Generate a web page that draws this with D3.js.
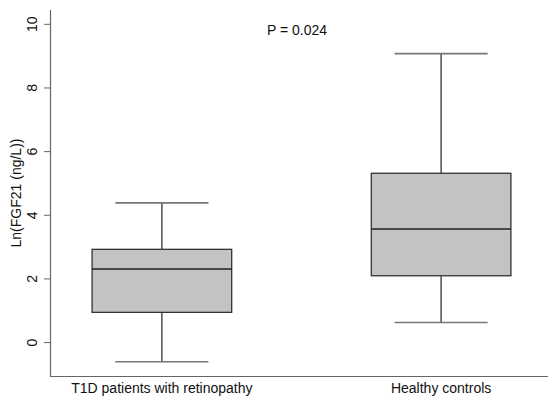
<!DOCTYPE html>
<html>
<head>
<meta charset="utf-8">
<script src="https://cdn.jsdelivr.net/npm/d3@7"></script>
<style>
  body { margin: 0; background: #fff; }
  text { font-family: "Liberation Sans", Arial, sans-serif; fill: #111; }
</style>
</head>
<body>
<svg width="550" height="398"></svg>
<script>
// groups and box summary
var groups = ["T1D patients with retinopathy", "Healthy controls"];
var whiskerLow = [-0.60, 0.63];
var q1 = [0.95, 2.10];
var median = [2.31, 3.57];
var q3 = [2.93, 5.32];
var whiskerHigh = [4.39, 9.08];
var yTicks = [0, 2, 4, 6, 8, 10];
var pLabel = "P = 0.024";

var svg = d3.select("svg");

var y = d3.scaleLinear()
    .domain([-1.05, 10.45])
    .range([376, 10]);

var x = d3.scalePoint()
    .domain(groups)
    .range([53, 550])
    .padding(0.39);

var step = x.step();
var boxW = step * 0.5,
    capW = step / 3;

var boxes = groups.map(function (g, i) {
    return { g: g, lo: whiskerLow[i], q1: q1[i], med: median[i], q3: q3[i], hi: whiskerHigh[i] };
});

// axes
svg.append("line")
    .attr("x1", 50).attr("x2", 548)
    .attr("y1", 376.5).attr("y2", 376.5)
    .attr("stroke", "#666").attr("stroke-width", 1.2);

svg.append("line")
    .attr("x1", 50.5).attr("x2", 50.5)
    .attr("y1", 10).attr("y2", 376.5)
    .attr("stroke", "#666").attr("stroke-width", 1.2);

var ticks = svg.append("g");
ticks.selectAll("line")
    .data(yTicks)
    .enter().append("line")
    .attr("x1", 44).attr("x2", 50)
    .attr("y1", function (d) { return y(d); })
    .attr("y2", function (d) { return y(d); })
    .attr("stroke", "#666").attr("stroke-width", 1);

ticks.selectAll("text")
    .data(yTicks)
    .enter().append("text")
    .attr("transform", function (d) { return "translate(37," + y(d) + ") rotate(-90)"; })
    .attr("text-anchor", "middle")
    .attr("font-size", 14)
    .text(function (d) { return d; });

svg.append("text")
    .attr("transform", "translate(21," + ((10 + 376) / 2) + ") rotate(-90)")
    .attr("text-anchor", "middle")
    .attr("font-size", 14)
    .text("Ln(FGF21 (ng/L))");

svg.append("g").selectAll("text")
    .data(groups)
    .enter().append("text")
    .attr("x", function (d) { return x(d); })
    .attr("y", 393)
    .attr("text-anchor", "middle")
    .attr("font-size", 14)
    .text(function (d) { return d; });

// boxes
var b = svg.append("g").selectAll("g")
    .data(boxes)
    .enter().append("g");

// whisker stems
b.append("line")
    .attr("x1", function (d) { return x(d.g); })
    .attr("x2", function (d) { return x(d.g); })
    .attr("y1", function (d) { return y(d.hi); })
    .attr("y2", function (d) { return y(d.q3); })
    .attr("stroke", "#333").attr("stroke-width", 1.3);

b.append("line")
    .attr("x1", function (d) { return x(d.g); })
    .attr("x2", function (d) { return x(d.g); })
    .attr("y1", function (d) { return y(d.q1); })
    .attr("y2", function (d) { return y(d.lo); })
    .attr("stroke", "#333").attr("stroke-width", 1.3);

// caps
b.append("line")
    .attr("x1", function (d) { return x(d.g) - capW / 2; })
    .attr("x2", function (d) { return x(d.g) + capW / 2; })
    .attr("y1", function (d) { return y(d.hi); })
    .attr("y2", function (d) { return y(d.hi); })
    .attr("stroke", "#777").attr("stroke-width", 1.6);

b.append("line")
    .attr("x1", function (d) { return x(d.g) - capW / 2; })
    .attr("x2", function (d) { return x(d.g) + capW / 2; })
    .attr("y1", function (d) { return y(d.lo); })
    .attr("y2", function (d) { return y(d.lo); })
    .attr("stroke", "#777").attr("stroke-width", 1.6);

b.append("rect")
    .attr("x", function (d) { return x(d.g) - boxW / 2; })
    .attr("width", boxW)
    .attr("y", function (d) { return y(d.q3); })
    .attr("height", function (d) { return y(d.q1) - y(d.q3); })
    .attr("fill", "#c3c3c3")
    .attr("stroke", "#333").attr("stroke-width", 1.3);

b.append("line")
    .attr("x1", function (d) { return x(d.g) - boxW / 2; })
    .attr("x2", function (d) { return x(d.g) + boxW / 2; })
    .attr("y1", function (d) { return y(d.med); })
    .attr("y2", function (d) { return y(d.med); })
    .attr("stroke", "#222").attr("stroke-width", 1.5);

svg.append("text")
    .attr("x", 297)
    .attr("y", 35)
    .attr("text-anchor", "middle")
    .attr("font-size", 14)
    .text(pLabel);
</script>
</body>
</html>
